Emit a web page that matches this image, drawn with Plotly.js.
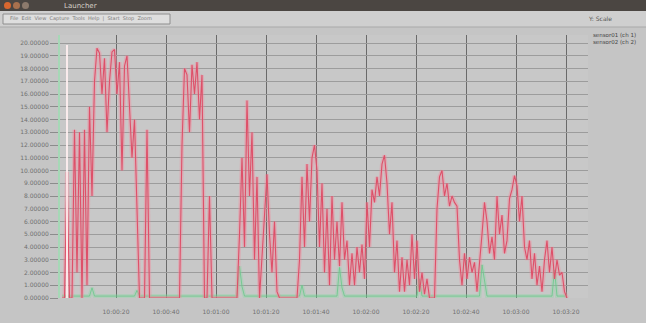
<!DOCTYPE html>
<html>
<head>
<meta charset="utf-8">
<script src="https://cdn.plot.ly/plotly-3.0.1.min.js"></script>
<style>
  html,body{margin:0;padding:0;background:#c5c5c5;}
  #chart{width:646px;height:323px;}
</style>
</head>
<body>
<div id="chart"></div>
<script>
// ---- data (in grid units) ----
const redSeries = [0,0,9.9,0,0,13.2,2,13,0,13.2,
1,15,8,17,19.6,19.2,16,18.8,13,17,
19.3,19.5,16,18.5,10,18.2,19,15,11,14,
6,0,0,0,13.2,0,0,0,0,0,
0,0,0,0,0,0,0,0,12,18,
17.5,13,18.3,16,18.5,14,17.5,0,0,8,
0,0,0,0,0,0,0,0,0,0,
0,5,11,4,15.5,8,13,3,9.5,0,
3,6,9.7,5,2,6,0.5,0,0,0,
0,0,0,0,0,3,9.5,4,10.5,6,
11,12,10,4,9,2,7,1,8,3,
6,2.5,7.5,3,4.5,1,3.5,1,4,2,
4.2,1.5,7.5,4,8.5,7.5,9.5,8,10.5,11.2,
9,5,7.5,2,4.5,0.5,3.2,0.5,3,1,
5,1.5,4.5,0.5,2,0.3,1.5,0,0,0,
7,9.5,10,8,9,7.2,8,7.5,7.2,3,
1,3.5,1.5,3.2,2,2.8,0.5,2.5,5,7.5,
6,3.5,4.8,3,8,5,6.5,3.5,4.5,7.8,
8.5,9.6,8.8,6,8,4,3,4.5,1.5,3.5,
1,2.5,0.5,3,4.5,2,4,1.5,3,1.8,
2,0.5,0];

const greenSeries = [0.15,0.15,0.15,0.15,0.15,0.15,0.15,0.15,0.15,0.15,
0.15,0.15,0.8,0.15,0.15,0.15,0.15,0.15,0.15,0.15,
0.15,0.15,0.15,0.15,0.15,0.15,0.15,0.15,0.15,0.15,
0.6,0.15,0.15,0.15,0.15,0.15,0.15,0.15,0.15,0.15,
0.15,0.15,0.15,0.15,0.15,0.15,0.15,0.15,0.15,0.15,
0.15,0.15,0.15,0.15,0.15,0.15,0.15,0.15,0.15,0.15,
0.15,0.15,0.15,0.15,0.15,0.15,0.15,0.15,0.15,0.15,
0.15,2.5,0.9,0.15,0.15,0.15,0.15,0.15,0.15,0.15,
0.15,0.15,0.15,0.15,0.15,0.15,0.15,0.15,0.15,0.15,
0.15,0.15,0.15,0.15,0.15,0.15,1.0,0.15,0.15,0.15,
0.15,0.15,0.15,0.15,0.15,0.15,0.15,0.15,0.15,0.15,
0.15,2.4,0.8,0.15,0.15,0.15,0.15,0.15,0.15,0.15,
0.15,0.15,0.15,0.15,0.15,0.15,0.15,0.15,0.15,0.15,
0.15,0.15,0.15,0.15,0.15,0.15,0.15,0.15,0.15,0.15,
0.15,0.15,0.15,1.5,0.15,0.15,0.15,0.15,0.15,0.15,
0.15,0.15,0.15,0.15,0.15,0.15,0.15,0.15,0.15,0.15,
0.15,0.15,0.15,0.15,0.15,0.15,0.15,0.15,2.6,1.2,
0.15,0.15,0.15,0.15,0.15,0.15,0.15,0.15,0.15,0.15,
0.15,0.15,0.15,0.15,0.15,0.15,0.15,0.15,0.15,0.15,
0.15,0.15,0.15,0.15,0.15,0.15,0.15,2.2,0.15,0.15,
0.15,0.15,0.15];

const yTickLabels = ["20.00000","19.00000","18.00000","17.00000","16.00000","15.00000","14.00000",
  "13.00000","12.00000","11.00000","10.00000","9.00000","8.00000","7.00000","6.00000",
  "5.00000","4.00000","3.00000","2.00000","1.00000","0.00000"].reverse();

const xTickLabels = ["10:00:20","10:00:40","10:01:00","10:01:20","10:01:40",
  "10:02:00","10:02:20","10:02:40","10:03:00","10:03:20"];

const seriesNames = ["sensor01 (ch 1)","sensor02 (ch 2)"];

// ---- build ----
const xs = redSeries.map((_, i) => i);
const xsG = greenSeries.map((_, i) => i);
const yTickVals = yTickLabels.map((_, i) => i);
const xTickVals = xTickLabels.map((_, k) => 21.6 + 20 * k);

// pixel helpers for window chrome (paper coordinates)
const L = 60, R = 588, T = 35, B = 298;
const PX = p => (p - L) / (R - L);
const PY = p => (B - p) / (B - T);

const traces = [
  {x: xsG, y: greenSeries, type: 'scatter', mode: 'lines', showlegend: false, hoverinfo: 'skip',
   line: {color: 'rgba(130,220,160,0.3)', width: 4}},
  {x: xsG, y: greenSeries, type: 'scatter', mode: 'lines', name: seriesNames[1], showlegend: false,
   line: {color: 'rgba(100,200,135,0.75)', width: 1}},
  {x: xs, y: redSeries, type: 'scatter', mode: 'lines', showlegend: false, hoverinfo: 'skip',
   line: {color: 'rgba(245,135,155,0.4)', width: 4}},
  {x: xs, y: redSeries, type: 'scatter', mode: 'lines', name: seriesNames[0], showlegend: false,
   line: {color: '#de5069', width: 1.1}}
];

const font = {family: 'DejaVu Sans, sans-serif', size: 6, color: '#707070'};

const layout = {
  width: 646, height: 323,
  margin: {l: L, r: 646 - R, t: T, b: 323 - B, pad: 0},
  paper_bgcolor: '#c5c5c5',
  plot_bgcolor: '#c8c8c8',
  font: font,
  showlegend: false,
  xaxis: {
    range: [-0.8, 210.4], tickvals: xTickVals, ticktext: xTickLabels,
    showgrid: true, gridcolor: '#6a6a6a', gridwidth: 1, zeroline: false,
    ticks: 'outside', ticklen: 8, tickcolor: '#c5c5c5', tickfont: font,
    showline: false
  },
  yaxis: {
    range: [0, 20.63], tickvals: yTickVals, ticktext: yTickLabels,
    showgrid: true, gridcolor: '#9c9c9c', gridwidth: 1, zeroline: false,
    ticks: 'outside', ticklen: 8, tickcolor: '#8c8c8c', tickfont: font,
    showline: true, linecolor: '#a6d8b6', linewidth: 2
  },
  shapes: [
    {type: 'line', xref: 'x', yref: 'paper', x0: 2, x1: 2, y0: 0, y1: PY(45),
     line: {color: 'rgba(255,238,240,0.9)', width: 2}},
    {type: 'rect', xref: 'paper', yref: 'paper', x0: PX(0), x1: PX(646), y0: PY(11), y1: PY(0),
     fillcolor: '#4b4642', line: {width: 0}},
    {type: 'rect', xref: 'paper', yref: 'paper', x0: PX(0), x1: PX(646), y0: PY(27), y1: PY(11),
     fillcolor: '#cfcfcf', line: {width: 0}},
    {type: 'line', xref: 'paper', yref: 'paper', x0: PX(0), x1: PX(646), y0: PY(27), y1: PY(27),
     line: {color: '#a9a9a9', width: 1}},
    {type: 'rect', xref: 'paper', yref: 'paper', x0: PX(3), x1: PX(170), y0: PY(24), y1: PY(14),
     fillcolor: '#dedede', line: {color: '#8e8e8e', width: 1}},
    {type: 'circle', xref: 'paper', yref: 'paper', x0: PX(4), x1: PX(11), y0: PY(9), y1: PY(2),
     fillcolor: '#d9672f', line: {width: 0}},
    {type: 'circle', xref: 'paper', yref: 'paper', x0: PX(13), x1: PX(20), y0: PY(9), y1: PY(2),
     fillcolor: '#a8714e', line: {width: 0}},
    {type: 'circle', xref: 'paper', yref: 'paper', x0: PX(22), x1: PX(29), y0: PY(9), y1: PY(2),
     fillcolor: '#8c7a6c', line: {width: 0}}
  ],
  annotations: [
    {xref: 'paper', yref: 'paper', x: PX(62), y: PY(6), text: 'Launcher', showarrow: false,
     xanchor: 'left', yanchor: 'middle', font: {family: 'DejaVu Sans', size: 7, color: '#d6d0c8'}},
    {xref: 'paper', yref: 'paper', x: PX(8), y: PY(19), text: 'File  Edit  View  Capture  Tools  Help  |  Start  Stop  Zoom', showarrow: false,
     xanchor: 'left', yanchor: 'middle', font: {family: 'DejaVu Sans', size: 5, color: '#7a7a7a'}},
    {xref: 'paper', yref: 'paper', x: PX(586), y: PY(19), text: 'Y: Scale', showarrow: false,
     xanchor: 'left', yanchor: 'middle', font: {family: 'DejaVu Sans', size: 6, color: '#555'}},
    {xref: 'paper', yref: 'paper', x: PX(591), y: PY(35), text: seriesNames[0], showarrow: false,
     xanchor: 'left', yanchor: 'middle', font: {family: 'DejaVu Sans', size: 5.5, color: '#444'}},
    {xref: 'paper', yref: 'paper', x: PX(591), y: PY(42), text: seriesNames[1], showarrow: false,
     xanchor: 'left', yanchor: 'middle', font: {family: 'DejaVu Sans', size: 5.5, color: '#444'}}
  ]
};

Plotly.newPlot('chart', traces, layout, {staticPlot: true, displayModeBar: false});
</script>
</body>
</html>
